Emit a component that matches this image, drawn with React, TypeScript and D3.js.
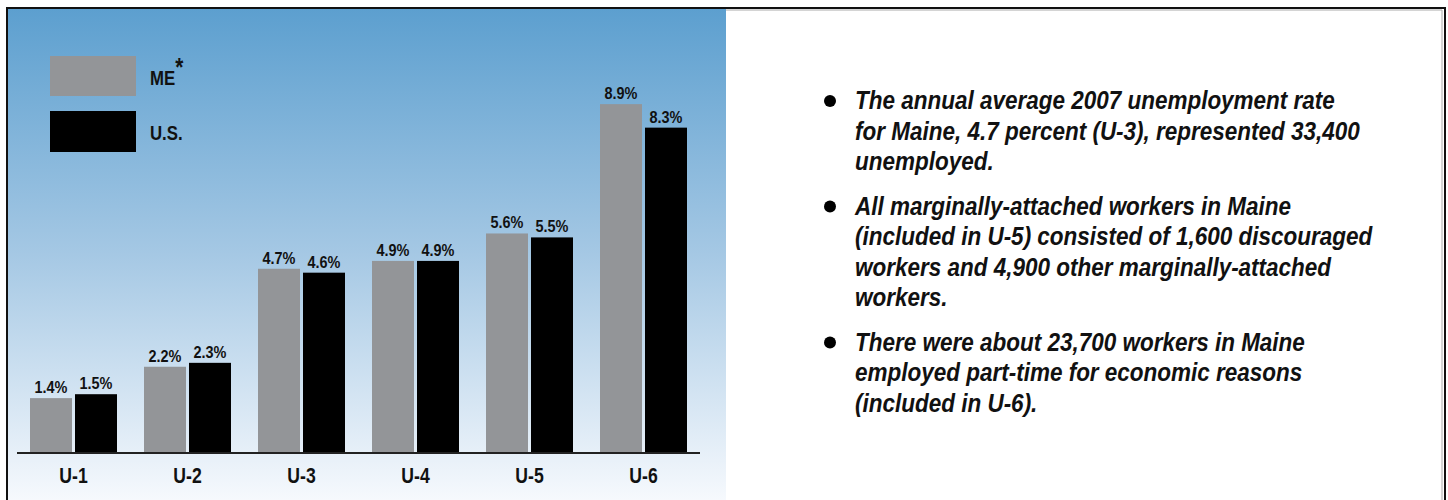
import React from 'react'
import * as d3 from 'd3'

const categories = ['U-1', 'U-2', 'U-3', 'U-4', 'U-5', 'U-6']
const maineValues = [1.4, 2.2, 4.7, 4.9, 5.6, 8.9]
const usValues = [1.5, 2.3, 4.6, 4.9, 5.5, 8.3]
const seriesNames = ['ME', 'US']
const legendLabels = ['ME', 'U.S.']

const bullets = [
  [
    'The annual average 2007 unemployment rate',
    'for Maine, 4.7 percent (U-3), represented 33,400',
    'unemployed.',
  ],
  [
    'All marginally-attached workers in Maine',
    '(included in U-5) consisted of 1,600 discouraged',
    'workers and 4,900 other marginally-attached',
    'workers.',
  ],
  [
    'There were about 23,700 workers in Maine',
    'employed part-time for economic reasons',
    '(included in U-6).',
  ],
]

const FONT = "'Liberation Sans', Arial, sans-serif"
const GRAY = '#939598'

// condensed-looking label: text squeezed horizontally around its anchor
const Narrow = ({ x, y, sx, size, anchor = 'start', italic = false, children }: any) => (
  <g transform={`translate(${x},${y}) scale(${sx},1)`}>
    <text
      x={0}
      y={0}
      textAnchor={anchor}
      fontFamily={FONT}
      fontWeight="bold"
      fontStyle={italic ? 'italic' : 'normal'}
      fontSize={size}
      fill="#111"
    >
      {children}
    </text>
  </g>
)

export default function App() {
  const W = 1448
  const H = 500
  const baseY = 453

  const x0 = d3.scaleBand<string>()
    .domain(categories)
    .range([16.5, 700.5])
    .paddingInner(27 / 114)
    .paddingOuter(13.5 / 114)

  const x1 = d3.scaleBand<string>()
    .domain(seriesNames)
    .range([0, x0.bandwidth()])
    .paddingInner(3 / 45)

  const y = d3.scaleLinear().domain([0, 10]).range([baseY, baseY - 392])

  const rows = categories.map((c, i) => ({ cat: c, ME: maineValues[i], US: usValues[i] }))

  // right panel text layout
  const lineH = 30.5
  const bulletGap = 14
  let cursor = 109
  const textLines: { text: string; y: number; first: boolean }[] = []
  bullets.forEach((b) => {
    b.forEach((t, j) => {
      textLines.push({ text: t, y: cursor, first: j === 0 })
      cursor += lineH
    })
    cursor += bulletGap
  })

  return (
    <svg
      width={W}
      height={H}
      style={{ position: 'absolute', left: 0, top: 0, display: 'block', background: '#fff' }}
    >
      <defs>
        <linearGradient id="bg" x1="0" y1="0" x2="0" y2="1">
          <stop offset="0%" stopColor="#5c9fcf" />
          <stop offset="50%" stopColor="#a5c8e4" />
          <stop offset="100%" stopColor="#f6f9fd" />
        </linearGradient>
      </defs>

      {/* panels */}
      <rect x={8} y={8} width={718} height={H - 8} fill="url(#bg)" />
      <rect x={726} y={8} width={717} height={H - 8} fill="#fff" />
      <line x1={1442} y1={10} x2={1442} y2={H} stroke="#aaa" strokeWidth={1} />
      <line x1={726} y1={10} x2={1442} y2={10} stroke="#aaa" strokeWidth={1} />
      <path d={`M7,${H} V8 H1445 V${H}`} fill="none" stroke="#111" strokeWidth={2} />

      {/* legend */}
      <rect x={50} y={56} width={86} height={40} fill={GRAY} />
      <rect x={50} y={111} width={86} height={41} fill="#000" />
      <Narrow x={150} y={85} sx={0.8} size={21}>
        {legendLabels[0]}
        <tspan dy={-9} fontSize={26}>*</tspan>
      </Narrow>
      <Narrow x={150} y={140} sx={0.8} size={21}>
        {legendLabels[1]}
      </Narrow>

      {/* bars */}
      {rows.map((r) => (
        <g key={r.cat} transform={`translate(${x0(r.cat)},0)`}>
          {seriesNames.map((s) => {
            const v = (r as any)[s] as number
            const bx = x1(s)!
            return (
              <g key={s}>
                <rect
                  x={bx}
                  y={y(v)}
                  width={x1.bandwidth()}
                  height={baseY - y(v)}
                  fill={s === 'ME' ? GRAY : '#000'}
                />
                <Narrow x={bx + x1.bandwidth() / 2} y={y(v) - 5} sx={0.85} size={17} anchor="middle">
                  {v.toFixed(1)}%
                </Narrow>
              </g>
            )
          })}
          <Narrow x={x0.bandwidth() / 2} y={483} sx={0.8} size={22} anchor="middle">
            {r.cat}
          </Narrow>
        </g>
      ))}

      {/* baseline */}
      <line x1={17} x2={700} y1={baseY} y2={baseY} stroke="#222" strokeWidth={2} />

      {/* notes */}
      {textLines.map((l, i) => (
        <g key={i}>
          {l.first && <circle cx={830} cy={l.y - 8} r={6} fill="#000" />}
          <Narrow x={855} y={l.y} sx={0.9} size={25} italic>
            {l.text}
          </Narrow>
        </g>
      ))}
    </svg>
  )
}
